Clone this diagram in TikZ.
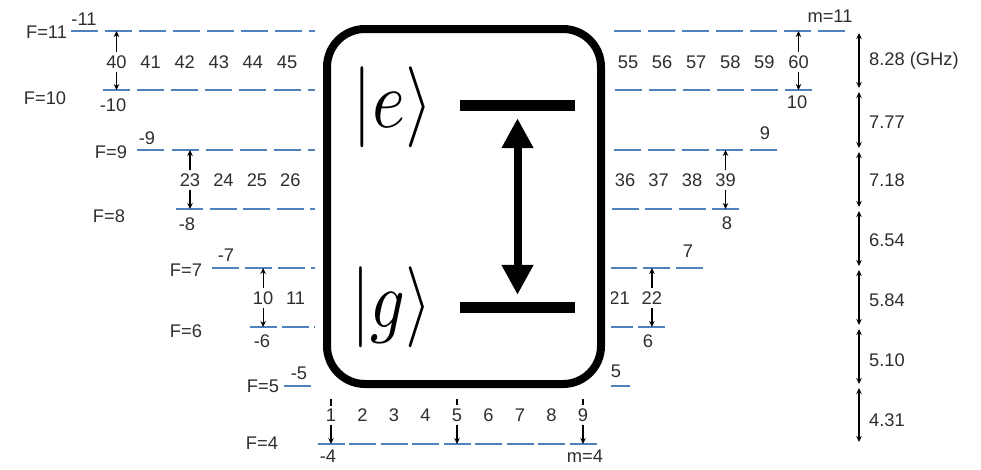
\documentclass[tikz,border=0pt]{standalone}
\usepackage{graphicx}
\usepackage{fontspec}
\setmainfont{Liberation Sans}
\usetikzlibrary{arrows.meta}
\definecolor{lvl}{HTML}{4F81BD}
\definecolor{txt}{HTML}{2E2E2E}
\begin{document}
\begin{tikzpicture}[x=1pt,y=-1pt,
  lab/.style={font=\fontsize{18.3}{20}\selectfont, text=txt, inner sep=3pt},
  lvlline/.style={draw=lvl, line width=2.9pt},
  tarr/.style={-{Stealth[length=6pt,width=5.5pt]}, line width=1.2pt, black},
  scalearr/.style={{Stealth[length=6pt,width=5.5pt]}-{Stealth[length=6pt,width=5.5pt]}, line width=1.4pt, black},
  bar/.style={fill=black, inner sep=0pt, minimum width=115pt, minimum height=11pt},
]
\useasboundingbox (0,0) rectangle (981,469);

% sublevel dashes
\foreach \F/\c/\p/\y in {11/458/33.95/31, 10/457.5/34.1/90, 9/457.25/34.03/150, 8/457.75/33.47/209, 7/457.5/33.14/268, 6/457.5/32.4/327, 5/456.5/31.9/386, 4/457/31.5/444}
{
  \pgfmathtruncatemacro\n{2*\F}
  \coordinate (s\F) at (859,\y);
  \foreach \i in {0,...,\n} {
    \coordinate (d\F x\i) at ({\c+(\i-\F)*\p},\y);
    \draw[lvlline] ([xshift=-13.5pt]d\F x\i) -- ([xshift=13.5pt]d\F x\i);
  }
}

% F labels
\node[lab] (F11) at (46.5,32) {F=11};
\node[lab] (F10) at (45,98) {F=10};
\node[lab] (F9) at (111,152) {F=9};
\node[lab] (F8) at (109,216) {F=8};
\node[lab] (F7) at (186,270) {F=7};
\node[lab] (F6) at (186,331) {F=6};
\node[lab] (F5) at (263,386) {F=5};
\node[lab] (F4) at (262,443) {F=4};

% m labels
\node[lab] (m11l) at (84,19) {-11};
\node[lab] (m11r) at (830,16) {m=11};
\node[lab] (m10l) at (113,105) {-10};
\node[lab] (m10r) at (797,102) {10};
\node[lab] (m9l) at (147,138) {-9};
\node[lab] (m9r) at (765,133) {9};
\node[lab] (m8l) at (187,224) {-8};
\node[lab] (m8r) at (727,223) {8};
\node[lab] (m7l) at (226,255) {-7};
\node[lab] (m7r) at (688,251) {7};
\node[lab] (m6l) at (262,341) {-6};
\node[lab] (m6r) at (648,341) {6};
\node[lab] (m5l) at (299,373) {-5};
\node[lab] (m5r) at (616,371) {5};
\node[lab] (m4l) at (328,456) {-4};
\node[lab] (m4r) at (585,456) {m=4};

% transition numbers
\foreach \k in {40,...,45,55,56,57,58,59,60}
  \node[lab] (t\k) at ({457.5+(\k-50)*34.1},62) {\k};
\foreach \k in {23,...,26,36,37,38,39}
  \node[lab] (t\k) at ({457.75+(\k-31)*33.47},180) {\k};
\foreach \k in {10,11,21,22}
  \node[lab] (t\k) at ({457.5+(\k-16)*32.4},298) {\k};
\foreach \k in {1,...,9}
  \node[lab] (t\k) at ({457+(\k-5)*31.5},415) {\k};

% transition arrows
\draw[tarr] (t40.north) -- (t40.north |- d11x1);
\draw[tarr] (t40.south) -- (t40.south |- d10x0);
\draw[tarr] (t60.north) -- (t60.north |- d11x21);
\draw[tarr] (t60.south) -- (t60.south |- d10x20);
\draw[tarr] (t23.north) -- (t23.north |- d9x1);
\draw[tarr] (t23.south) -- (t23.south |- d8x0);
\draw[tarr] (t39.north) -- (t39.north |- d9x17);
\draw[tarr] (t39.south) -- (t39.south |- d8x16);
\draw[tarr] (t10.north) -- (t10.north |- d7x1);
\draw[tarr] (t10.south) -- (t10.south |- d6x0);
\draw[tarr] (t22.north) -- (t22.north |- d7x13);
\draw[tarr] (t22.south) -- (t22.south |- d6x12);
\foreach \k/\i in {1/0,5/4,9/8} {
  \draw[tarr] (t\k.north) -- (t\k.north |- d5x1);
  \draw[tarr] (t\k.south) -- (t\k.south |- d4x\i);
}

% energy scale
\draw[scalearr] ([yshift=-2pt]s11) -- ([yshift=2pt]s10);
\draw[scalearr] ([yshift=-2pt]s10) -- ([yshift=2pt]s9);
\draw[scalearr] ([yshift=-2pt]s9) -- ([yshift=2pt]s8);
\draw[scalearr] ([yshift=-2pt]s8) -- ([yshift=2pt]s7);
\draw[scalearr] ([yshift=-2pt]s7) -- ([yshift=2pt]s6);
\draw[scalearr] ([yshift=-2pt]s6) -- ([yshift=2pt]s5);
\draw[scalearr] ([yshift=-2pt]s5) -- ([yshift=2pt]s4);
\node[lab, anchor=west] (g1) at (866,61) {8.28 (GHz)};
\node[lab, anchor=west] (g2) at (866,122) {7.77};
\node[lab, anchor=west] (g3) at (866,180) {7.18};
\node[lab, anchor=west] (g4) at (866,240) {6.54};
\node[lab, anchor=west] (g5) at (866,300) {5.84};
\node[lab, anchor=west] (g6) at (866,360) {5.10};
\node[lab, anchor=west] (g7) at (866,420) {4.31};

% central inset
\fill[white] (315,15) rectangle (611,399);
\draw[line width=8pt, rounded corners=38pt] (327,29) rectangle (601,384);
\node[bar] (ebar) at (517.5,105.5) {};
\node[bar] (gbar) at (517.5,307.5) {};
\draw[{Triangle[length=30pt,width=30pt]}-{Triangle[length=30pt,width=30pt]}, line width=8pt, shorten <=7pt, shorten >=7pt] (ebar.south) -- (gbar.north);
\node[inner sep=0pt] (kete) at (392.5,107.5) {\resizebox*{80pt}{81pt}{$|e\rangle$}};
\node[inner sep=0pt] (ketg) at (392,307.5) {\resizebox*{80pt}{81pt}{$|g\rangle$}};
\end{tikzpicture}
\end{document}
